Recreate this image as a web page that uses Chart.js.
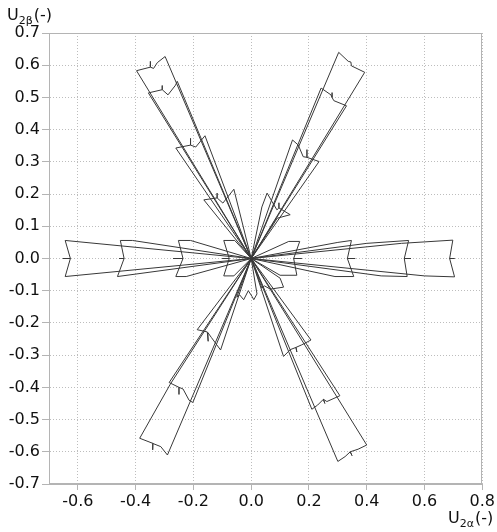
<!DOCTYPE html>
<html><head><meta charset="utf-8">
<script src="https://cdn.jsdelivr.net/npm/chart.js@4.4.1/dist/chart.umd.min.js"></script>
<style>html,body{margin:0;padding:0;background:#fff}#wrap{width:497px;height:532px;position:relative}</style>
</head><body><div id="wrap"><canvas id="c" width="497" height="532"></canvas></div>
<script>
// tick labels
const xTickValues = [-0.6, -0.4, -0.2, 0.0, 0.2, 0.4, 0.6, 0.8];
const yTickValues = [-0.7, -0.6, -0.5, -0.4, -0.3, -0.2, -0.1, 0.0, 0.1, 0.2, 0.3, 0.4, 0.5, 0.6, 0.7];
const xTitle = ['U', '2α', '(-)'];
const yTitle = ['U', '2β', '(-)'];

// trajectory outlines (x, y) — right arm (0°)
const R1 = [[0,0],[0.13,0.053],[0.168,0.053],[0.147,0],[0.175,0],[0.147,0],[0.158,-0.052],[0.10,-0.052],[0,0]];
const R2 = [[0,0],[0.30,0.05],[0.347,0.056],[0.333,0],[0.36,0],[0.333,0],[0.355,-0.056],[0.29,-0.056],[0,0]];
const R3 = [[0,0],[0.40,0.047],[0.545,0.056],[0.53,0],[0.553,0],[0.53,0],[0.54,-0.056],[0.45,-0.054],[0,0]];
const R4 = [[0,0],[0.52,0.047],[0.698,0.057],[0.687,0],[0.704,0],[0.687,0],[0.704,-0.057],[0.60,-0.054],[0,0]];
// upper-right arm (60°)
const U1 = [[0,0],[0.037,0.16],[0.055,0.203],[0.072,0.177],[0.089,0.151],[0.096,0.157],[0.096,0.173],[0.096,0.157],[0.135,0.136],[0.09,0.125],[0,0]];
const U2 = [[0,0],[0.143,0.368],[0.163,0.352],[0.18,0.316],[0.193,0.314],[0.193,0.338],[0.193,0.314],[0.235,0.301],[0,0]];
const U3 = [[0,0],[0.242,0.529],[0.276,0.508],[0.28,0.50],[0.28,0.515],[0.28,0.50],[0.286,0.49],[0.33,0.474],[0,0]];
const U4 = [[0,0],[0.303,0.640],[0.336,0.612],[0.345,0.61],[0.347,0.598],[0.393,0.578],[0,0]];
// upper-left arm (120°)
const UL1 = [[0,0],[-0.164,0.182],[-0.118,0.188],[-0.118,0.203],[-0.118,0.188],[-0.098,0.172],[-0.06,0.215],[0,0]];
const UL2 = [[0,0],[-0.261,0.343],[-0.21,0.352],[-0.21,0.373],[-0.21,0.352],[-0.192,0.346],[-0.16,0.381],[0,0]];
const UL3 = [[0,0],[-0.356,0.514],[-0.308,0.524],[-0.308,0.537],[-0.308,0.524],[-0.288,0.508],[-0.262,0.538],[-0.256,0.55],[0,0]];
const UL4 = [[0,0],[-0.397,0.583],[-0.349,0.594],[-0.349,0.612],[-0.349,0.594],[-0.338,0.59],[-0.325,0.608],[-0.298,0.627],[0,0]];
// left arm (180°)
const L1 = [[0,0],[-0.057,0.056],[-0.095,0.056],[-0.076,0],[-0.1,0],[-0.076,0],[-0.095,-0.054],[-0.06,-0.054],[0,0]];
const L2 = [[0,0],[-0.21,0.056],[-0.252,0.056],[-0.236,0],[-0.27,0],[-0.236,0],[-0.261,-0.056],[-0.225,-0.056],[0,0]];
const L3 = [[0,0],[-0.411,0.056],[-0.453,0.056],[-0.44,0],[-0.457,0],[-0.44,0],[-0.463,-0.056],[0,0]];
const L4 = [[0,0],[-0.644,0.056],[-0.626,0],[-0.652,0],[-0.626,0],[-0.644,-0.056],[0,0]];
// lower-left arm (240°)
const LL1 = [[0,0],[-0.05,-0.12],[-0.04,-0.113],[-0.026,-0.128],[-0.01,-0.1],[0.003,-0.118],[0.009,-0.128],[0.02,-0.11],[0,0]];
const LL2 = [[0,0],[-0.187,-0.221],[-0.152,-0.228],[-0.149,-0.257],[-0.15,-0.23],[-0.138,-0.245],[-0.106,-0.284],[0,0]];
const LL3 = [[0,0],[-0.284,-0.385],[-0.25,-0.40],[-0.25,-0.422],[-0.25,-0.40],[-0.236,-0.405],[-0.215,-0.44],[-0.202,-0.447],[0,0]];
const LL4 = [[0,0],[-0.28,-0.39],[-0.386,-0.558],[-0.34,-0.574],[-0.342,-0.594],[-0.34,-0.574],[-0.313,-0.584],[-0.29,-0.61],[0,0]];
// lower-right arm (300°)
const LR1 = [[0,0],[0.037,-0.092],[0.046,-0.085],[0.066,-0.095],[0.112,-0.089],[0.10,-0.061],[0,0]];
const LR2 = [[0,0],[0.112,-0.304],[0.135,-0.283],[0.155,-0.276],[0.158,-0.29],[0.155,-0.276],[0.175,-0.268],[0.207,-0.253],[0,0]];
const LR3 = [[0,0],[0.21,-0.468],[0.23,-0.455],[0.25,-0.437],[0.255,-0.45],[0.25,-0.437],[0.262,-0.444],[0.307,-0.426],[0,0]];
const LR4 = [[0,0],[0.30,-0.63],[0.325,-0.615],[0.343,-0.6],[0.349,-0.612],[0.343,-0.6],[0.37,-0.592],[0.40,-0.579],[0,0]];

const outlines = [R1,R2,R3,R4,U1,U2,U3,U4,UL1,UL2,UL3,UL4,L1,L2,L3,L4,LL1,LL2,LL3,LL4,LR1,LR2,LR3,LR4];

const FONT = 'DejaVu Sans';
const fmt = v => (Math.abs(v) < 1e-9 ? 0 : v).toFixed(1);

const titles = {
  id: 'titles',
  afterDraw(chart) {
    const ctx = chart.ctx;
    const drawT = (parts, x, y) => {
      ctx.save();
      ctx.fillStyle = '#111';
      ctx.textBaseline = 'alphabetic';
      ctx.textAlign = 'left';
      ctx.font = '16px "' + FONT + '"';
      ctx.fillText(parts[0], x, y);
      x += ctx.measureText(parts[0]).width;
      ctx.font = '11px "' + FONT + '"';
      ctx.fillText(parts[1], x, y + 4);
      x += ctx.measureText(parts[1]).width + 1;
      ctx.font = '16px "' + FONT + '"';
      ctx.fillText(parts[2], x, y);
      ctx.restore();
    };
    drawT(yTitle, 7, 20);
    drawT(xTitle, 448, 523);
    const a = chart.chartArea;
    ctx.save();
    ctx.strokeStyle = '#b4b4b4';
    ctx.lineWidth = 1;
    ctx.strokeRect(Math.round(a.left) + 0.5, Math.round(a.top) + 0.5, Math.round(a.right - a.left) - 1, Math.round(a.bottom - a.top) - 1);
    ctx.restore();
  }
};

new Chart(document.getElementById('c'), {
  type: 'scatter',
  data: {
    datasets: outlines.map(o => ({
      data: o.map(p => ({x: p[0], y: p[1]})),
      showLine: true,
      borderColor: '#383838',
      borderWidth: 1,
      pointRadius: 0,
      fill: false,
      tension: 0
    }))
  },
  options: {
    responsive: false,
    animation: false,
    events: [],
    plugins: { legend: {display: false}, tooltip: {enabled: false} },
    layout: { padding: {top: 33, right: 12, left: 0, bottom: 0} },
    scales: {
      x: {
        type: 'linear', min: -0.7, max: 0.8,
        afterBuildTicks: s => { s.ticks = xTickValues.map(v => ({value: v})); },
        afterFit: s => { s.height = 48; },
        grid: { color: '#bdbdbd', lineWidth: 1, tickLength: 6, tickColor: '#b4b4b4' },
        border: { display: true, color: '#b4b4b4', dash: [1, 2] },
        ticks: { color: '#111', padding: 2, font: {family: FONT, size: 16}, callback: v => fmt(v), maxRotation: 0, autoSkip: false }
      },
      y: {
        type: 'linear', min: -0.7, max: 0.7,
        afterBuildTicks: s => { s.ticks = yTickValues.map(v => ({value: v})); },
        afterFit: s => { s.width = 49; },
        grid: { color: '#bdbdbd', lineWidth: 1, tickLength: 7, tickColor: '#b4b4b4' },
        border: { display: true, color: '#b4b4b4', dash: [1, 2] },
        ticks: { color: '#111', padding: 2, font: {family: FONT, size: 16}, callback: v => fmt(v), autoSkip: false }
      }
    }
  },
  plugins: [titles]
});
</script>
</body></html>
